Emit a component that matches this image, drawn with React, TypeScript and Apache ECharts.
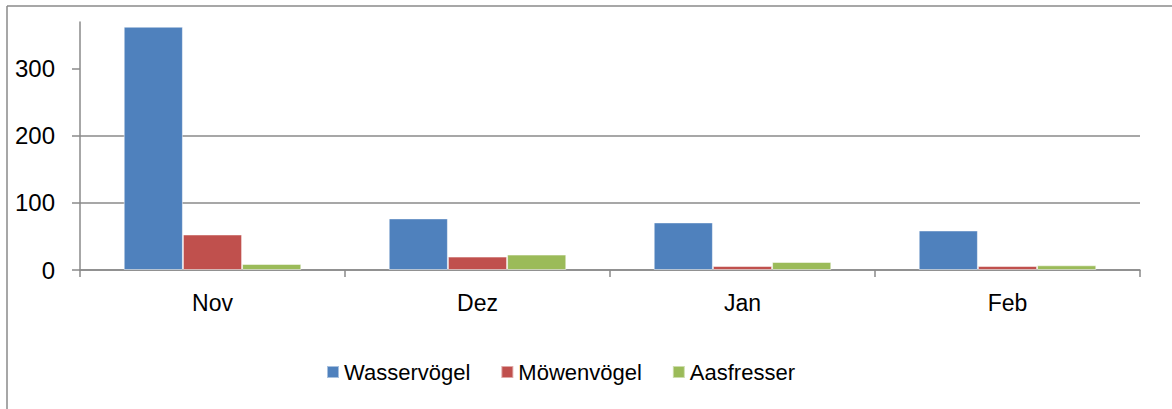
import React, { useEffect, useRef } from "react";
import * as echarts from "echarts";

const categories = ["Nov", "Dez", "Jan", "Feb"];
const seriesNames = ["Wasservögel", "Möwenvögel", "Aasfresser"];
const wasservoegel = [363, 77, 71, 59];
const moewenvoegel = [53, 20, 6, 6];
const aasfresser = [9, 23, 12, 7];
const yTicks = [0, 100, 200, 300];
const colors = ["#4F81BD", "#C0504D", "#9BBB59"];

export default function App() {
  const ref = useRef<HTMLDivElement>(null);
  useEffect(() => {
    if (!ref.current) return;
    const chart = echarts.init(ref.current, null, { renderer: "svg" });
    const font = "'Liberation Sans', Arial, sans-serif";
    const data = [wasservoegel, moewenvoegel, aasfresser];
    chart.setOption({
      animation: false,
      backgroundColor: "#fff",
      textStyle: { fontFamily: font },
      graphic: [
        { type: "line", shape: { x1: 7, y1: 6, x2: 1172, y2: 6 }, style: { stroke: "#8a8a8a", lineWidth: 1.5 } },
        { type: "line", shape: { x1: 7, y1: 6, x2: 7, y2: 409 }, style: { stroke: "#8a8a8a", lineWidth: 1.5 } },
      ],
      grid: { left: 80, right: 32, top: 22, bottom: 139, containLabel: false },
      legend: {
        top: 361,
        left: 326,
        padding: 0,
        itemWidth: 12,
        itemHeight: 12,
        itemGap: 30,
        icon: "rect",
        textStyle: { fontFamily: font, fontSize: 22, color: "#000" },
        data: seriesNames,
      },
      xAxis: {
        type: "category",
        data: categories,
        axisLine: { lineStyle: { color: "#8a8a8a", width: 1.5 } },
        axisTick: { show: true, alignWithLabel: false, length: 7, lineStyle: { color: "#8a8a8a", width: 1.5 } },
        axisLabel: { fontFamily: font, fontSize: 23, color: "#000", margin: 21 },
      },
      yAxis: {
        type: "value",
        min: 0,
        max: 370,
        interval: 100,
        axisLine: { show: true, lineStyle: { color: "#8a8a8a", width: 1.5 } },
        axisTick: { show: true, length: 8, customValues: yTicks, lineStyle: { color: "#8a8a8a", width: 1.5 } },
        axisLabel: { fontFamily: font, fontSize: 24, color: "#000", margin: 25, customValues: yTicks },
        splitLine: { show: true, showMaxLine: false, lineStyle: { color: "#8a8a8a", width: 1.5 } },
      },
      series: seriesNames.map((name, i) => ({
        name,
        type: "bar",
        data: data[i],
        barGap: "0%",
        barCategoryGap: "33%",
        itemStyle: { color: colors[i], borderColor: "rgba(255,255,255,0.5)", borderWidth: 1 },
      })),
    });
    return () => chart.dispose();
  }, []);
  return <div ref={ref} style={{ position: "fixed", left: 0, top: 0, width: 1172, height: 409 }} />;
}
